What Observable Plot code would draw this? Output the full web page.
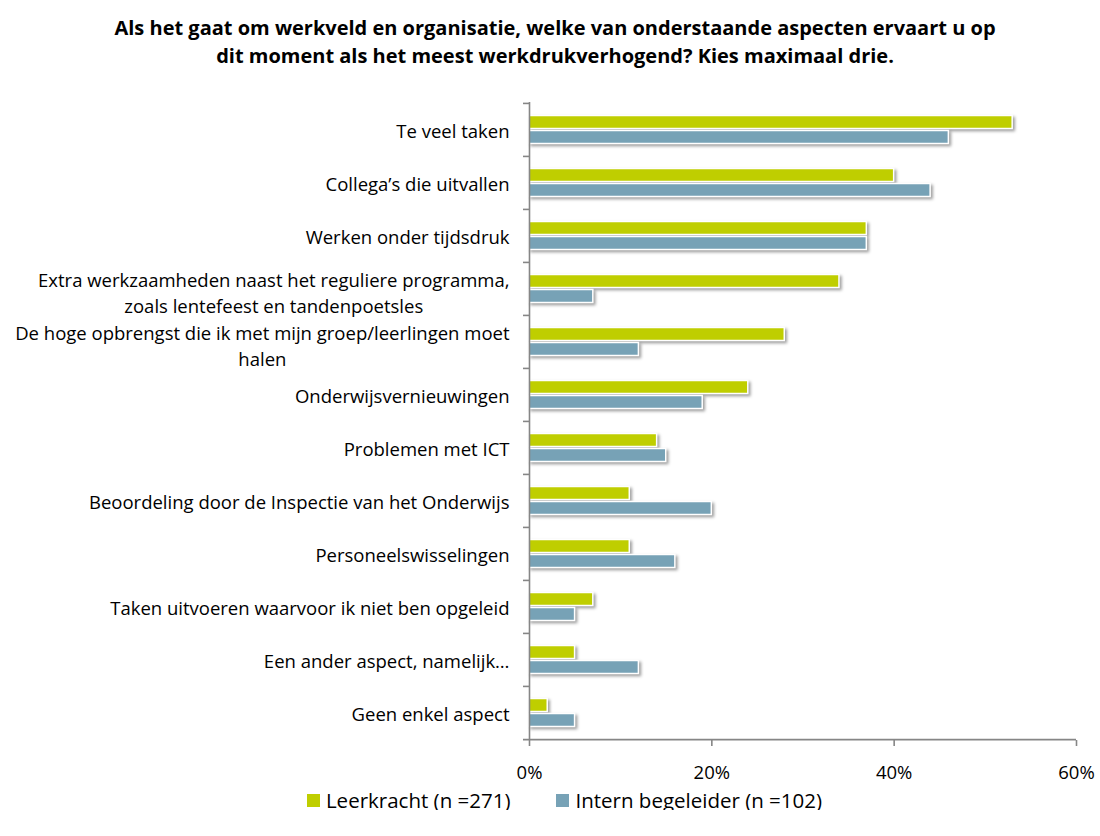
<!DOCTYPE html>
<html><head><meta charset="utf-8">
<script src="https://cdn.jsdelivr.net/npm/d3@7"></script>
<script src="https://cdn.jsdelivr.net/npm/@observablehq/plot@0.6"></script>
<style>
body{margin:0;background:#fff;font-family:"Open Sans",sans-serif;color:#000;}
#title{width:1100px;box-sizing:border-box;text-align:center;font-weight:bold;font-size:20px;line-height:28px;padding-top:14px;height:80px;padding-left:10px;}
#chart svg{display:block;}
g[aria-label="bar"]{filter:drop-shadow(2px 2.5px 1.5px rgba(0,0,0,0.38));}
#legend{width:1100px;display:flex;justify-content:center;padding-left:29px;box-sizing:border-box;font-size:20.5px;line-height:20px;}
.item{display:flex;align-items:center;margin:0 23px;}
.sw{width:13px;height:13px;margin-right:6px;}
</style>
</head><body>
<div id="title">Als het gaat om werkveld en organisatie, welke van onderstaande aspecten ervaart u op<br>dit moment als het meest werkdrukverhogend? Kies maximaal drie.</div>
<div id="chart"></div>
<div id="legend"></div>
<script>
const categories = [
  "Te veel taken",
  "Collega’s die uitvallen",
  "Werken onder tijdsdruk",
  "Extra werkzaamheden naast het reguliere programma,\nzoals lentefeest en tandenpoetsles",
  "De hoge opbrengst die ik met mijn groep/leerlingen moet\nhalen",
  "Onderwijsvernieuwingen",
  "Problemen met ICT",
  "Beoordeling door de Inspectie van het Onderwijs",
  "Personeelswisselingen",
  "Taken uitvoeren waarvoor ik niet ben opgeleid",
  "Een ander aspect, namelijk…",
  "Geen enkel aspect"
];
const leerkracht = [53, 40, 37, 34, 28, 24, 14, 11, 11, 7, 5, 2];
const internBegeleider = [46, 44, 37, 7, 12, 19, 15, 20, 16, 5, 12, 5];
const seriesNames = ["Leerkracht (n =271)", "Intern begeleider (n =102)"];
const seriesColors = ["#BFCE00", "#77A2B6"];
const xTicks = [0, 20, 40, 60];

const rows = categories.map((c, i) => ({cat: c, a: leerkracht[i], b: internBegeleider[i]}));

const H = 710, mT = 22, mB = 50, mL = 529, mR = 24;
const bw = (H - mT - mB) / categories.length;
const labelSize = 18.5;
const ctx = document.createElement("canvas").getContext("2d");
ctx.font = labelSize + 'px "Open Sans"';
const blockWidth = s => Math.max(...s.split("\n").map(l => ctx.measureText(l).width));

const labelMarks = categories.map(c => Plot.text([c], {
  x: () => 0, y: d => d, text: d => d,
  textAnchor: "middle", dx: -20 - blockWidth(c) / 2,
  dy: c.includes("\n") ? 3 : 0,
  lineHeight: 1.36, fontSize: labelSize, fill: "#000"
}));

const chart = Plot.plot({
  width: 1100, height: H,
  marginTop: mT, marginBottom: mB, marginLeft: mL, marginRight: mR,
  style: {fontFamily: '"Open Sans", sans-serif', background: "#fff", overflow: "visible"},
  x: {domain: [0, 60], axis: null},
  y: {domain: categories, padding: 0, axis: null},
  marks: [
    Plot.barX(rows, {x: "a", y: "cat", fill: seriesColors[0], stroke: "#fff", strokeWidth: 1.5, insetTop: 12.5, insetBottom: 27.5}),
    Plot.barX(rows, {x: "b", y: "cat", fill: seriesColors[1], stroke: "#fff", strokeWidth: 1.5, insetTop: 27.5, insetBottom: 12.5}),
    Plot.ruleX([0], {stroke: "#868686", strokeWidth: 1.6}),
    Plot.ruleY(categories, {y: d => d, x1: 0, x2: 0, insetLeft: -6, dy: -bw / 2, stroke: "#868686", strokeWidth: 1.6}),
    Plot.ruleY([categories[categories.length - 1]], {y: d => d, x1: 0, x2: 60, insetLeft: -6, dy: bw / 2, stroke: "#868686", strokeWidth: 1.6}),
    Plot.axisX({ticks: xTicks, tickFormat: d => d + "%", tickSize: 6, tickPadding: 19, fontSize: 18.5, stroke: "#868686", strokeWidth: 1.6, color: "#000", fill: "#000"}),
    ...labelMarks
  ]
});
document.getElementById("chart").appendChild(chart);

const legend = document.getElementById("legend");
seriesNames.forEach((n, i) => {
  const it = document.createElement("div"); it.className = "item";
  const sw = document.createElement("div"); sw.className = "sw"; sw.style.background = seriesColors[i];
  const t = document.createElement("span"); t.textContent = n;
  it.appendChild(sw); it.appendChild(t); legend.appendChild(it);
});
</script>
</body></html>
